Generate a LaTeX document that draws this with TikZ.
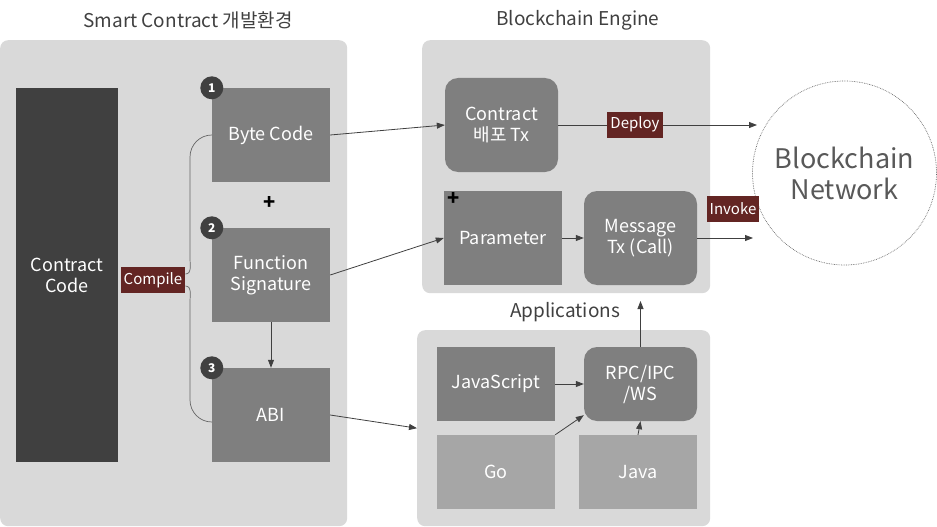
\documentclass[tikz,border=0pt]{standalone}
\usepackage{fontspec}
\setmainfont{Noto Sans CJK KR}
\usetikzlibrary{arrows.meta}

\definecolor{panelgray}{HTML}{D9D9D9}
\definecolor{darkbox}{HTML}{404040}
\definecolor{midbox}{HTML}{7F7F7F}
\definecolor{lightbox}{HTML}{A6A6A6}
\definecolor{tagred}{HTML}{632523}
\definecolor{titlegray}{HTML}{404040}
\definecolor{netgray}{HTML}{595959}

\tikzset{
  panel/.style={fill=panelgray, rounded corners=8pt, anchor=north west, inner sep=0pt},
  blockbox/.style={fill=midbox, text=white, minimum width=118pt, minimum height=94pt,
    align=center, inner sep=0pt, font=\fontsize{18}{21}\selectfont},
  roundbox/.style={blockbox, rounded corners=13pt, minimum width=113pt},
  appbox/.style={blockbox, minimum height=74pt},
  tag/.style={fill=tagred, text=white, inner xsep=3pt, minimum height=26pt,
    font=\fontsize{15}{17}\selectfont},
  numdot/.style={circle, fill=darkbox, text=white, minimum size=23pt, inner sep=0pt,
    font=\fontsize{12}{12}\selectfont\bfseries},
  plus/.style={font=\fontsize{20}{20}\selectfont\bfseries},
  heading/.style={text=titlegray, font=\fontsize{19}{22}\selectfont},
  link/.style={draw=darkbox, line width=0.8pt, -{Triangle[length=8pt,width=6pt]}},
  brace/.style={draw=darkbox!80, line width=0.7pt}
}

\begin{document}
\begin{tikzpicture}[x=1pt, y=-1pt]
  \useasboundingbox (0,0) rectangle (937,527);

  % panels
  \node[panel, minimum width=347pt, minimum height=486pt] (devpanel) at (0,40) {};
  \node[panel, minimum width=288pt, minimum height=253pt] (enginepanel) at (422,40) {};
  \node[panel, minimum width=293pt, minimum height=196pt] (apppanel) at (417,330) {};

  \node[heading] (devtitle) at (188,20) {Smart Contract 개발환경};
  \node[heading] (enginetitle) at (578,20) {Blockchain Engine};
  \node[heading] (apptitle) at (565,312) {Applications};

  % smart contract side
  \node[blockbox, fill=darkbox, minimum width=102pt, minimum height=374pt] (source) at (67,275) {Contract\\Code};
  \node[blockbox] (bytecode) at (271,135) {Byte Code};
  \node[blockbox] (funcsig) at (271,275) {Function\\Signature};
  \node[blockbox] (abi) at (271,415) {ABI};
  \node[numdot] (one) at (bytecode.north west) {1};
  \node[numdot] (two) at (funcsig.north west) {2};
  \node[numdot] (three) at (abi.north west) {3};
  \node[plus] (plusa) at (270,203) {+};
  \node[tag] (compile) at (153,280) {Compile};

  \draw[brace] (bytecode.west) to[out=180,in=90] (190,157) -- (190,258)
    to[out=-90,in=0] ([yshift=6pt]compile.east);
  \draw[brace] ([yshift=-6pt]compile.east) to[out=0,in=90] (190,302) -- (190,400)
    to[out=-90,in=180] ([yshift=-7pt]abi.west);

  % blockchain engine
  \node[roundbox] (contracttx) at (501.5,125) {Contract\\배포 Tx};
  \node[blockbox] (param) at (503,238) {Parameter};
  \node[roundbox] (msgtx) at (640.5,238) {Message\\Tx (Call)};
  \node[plus] (plusb) at (454,199) {+};

  % network
  \node[circle, draw=darkbox!80, densely dotted, line width=0.7pt, minimum size=184pt,
    align=center, text=netgray, font=\fontsize{27}{31}\selectfont] (network) at (844.5,173) {Blockchain\\Network};
  \coordinate (deployend) at (757,125);
  \coordinate (invokeend) at (753,238);

  % applications
  \node[appbox] (js) at (496,384) {JavaScript};
  \node[appbox, fill=lightbox] (go) at (496,472) {Go};
  \node[appbox, fill=lightbox] (java) at (638,472) {Java};
  \node[roundbox, minimum height=74pt] (rpc) at (640.5,384) {RPC/IPC\\/WS};
  \coordinate (rpcup) at (640.5,301);

  % connectors
  \draw[link] (bytecode.east) -- (contracttx.west);
  \draw[link] (funcsig.east) -- (param.west);
  \draw[link] (abi.east) -- (apppanel.west);
  \draw[link] (funcsig.south) -- (abi.north);
  \draw[link] (param.east) -- (msgtx.west);
  \draw[link] (contracttx.east) -- (deployend);
  \draw[link] (msgtx.east) -- (invokeend);
  \draw[link] (js.east) -- (rpc.west);
  \draw[link] (go.north east) -- ([yshift=6pt]rpc.south west);
  \draw[link] (java.north) -- (rpc.south);
  \draw[link] (rpc.north) -- (rpcup);

  \node[tag] (deploy) at (635,124.5) {Deploy};
  \node[tag] (invoke) at (733,208.5) {Invoke};
\end{tikzpicture}
\end{document}
